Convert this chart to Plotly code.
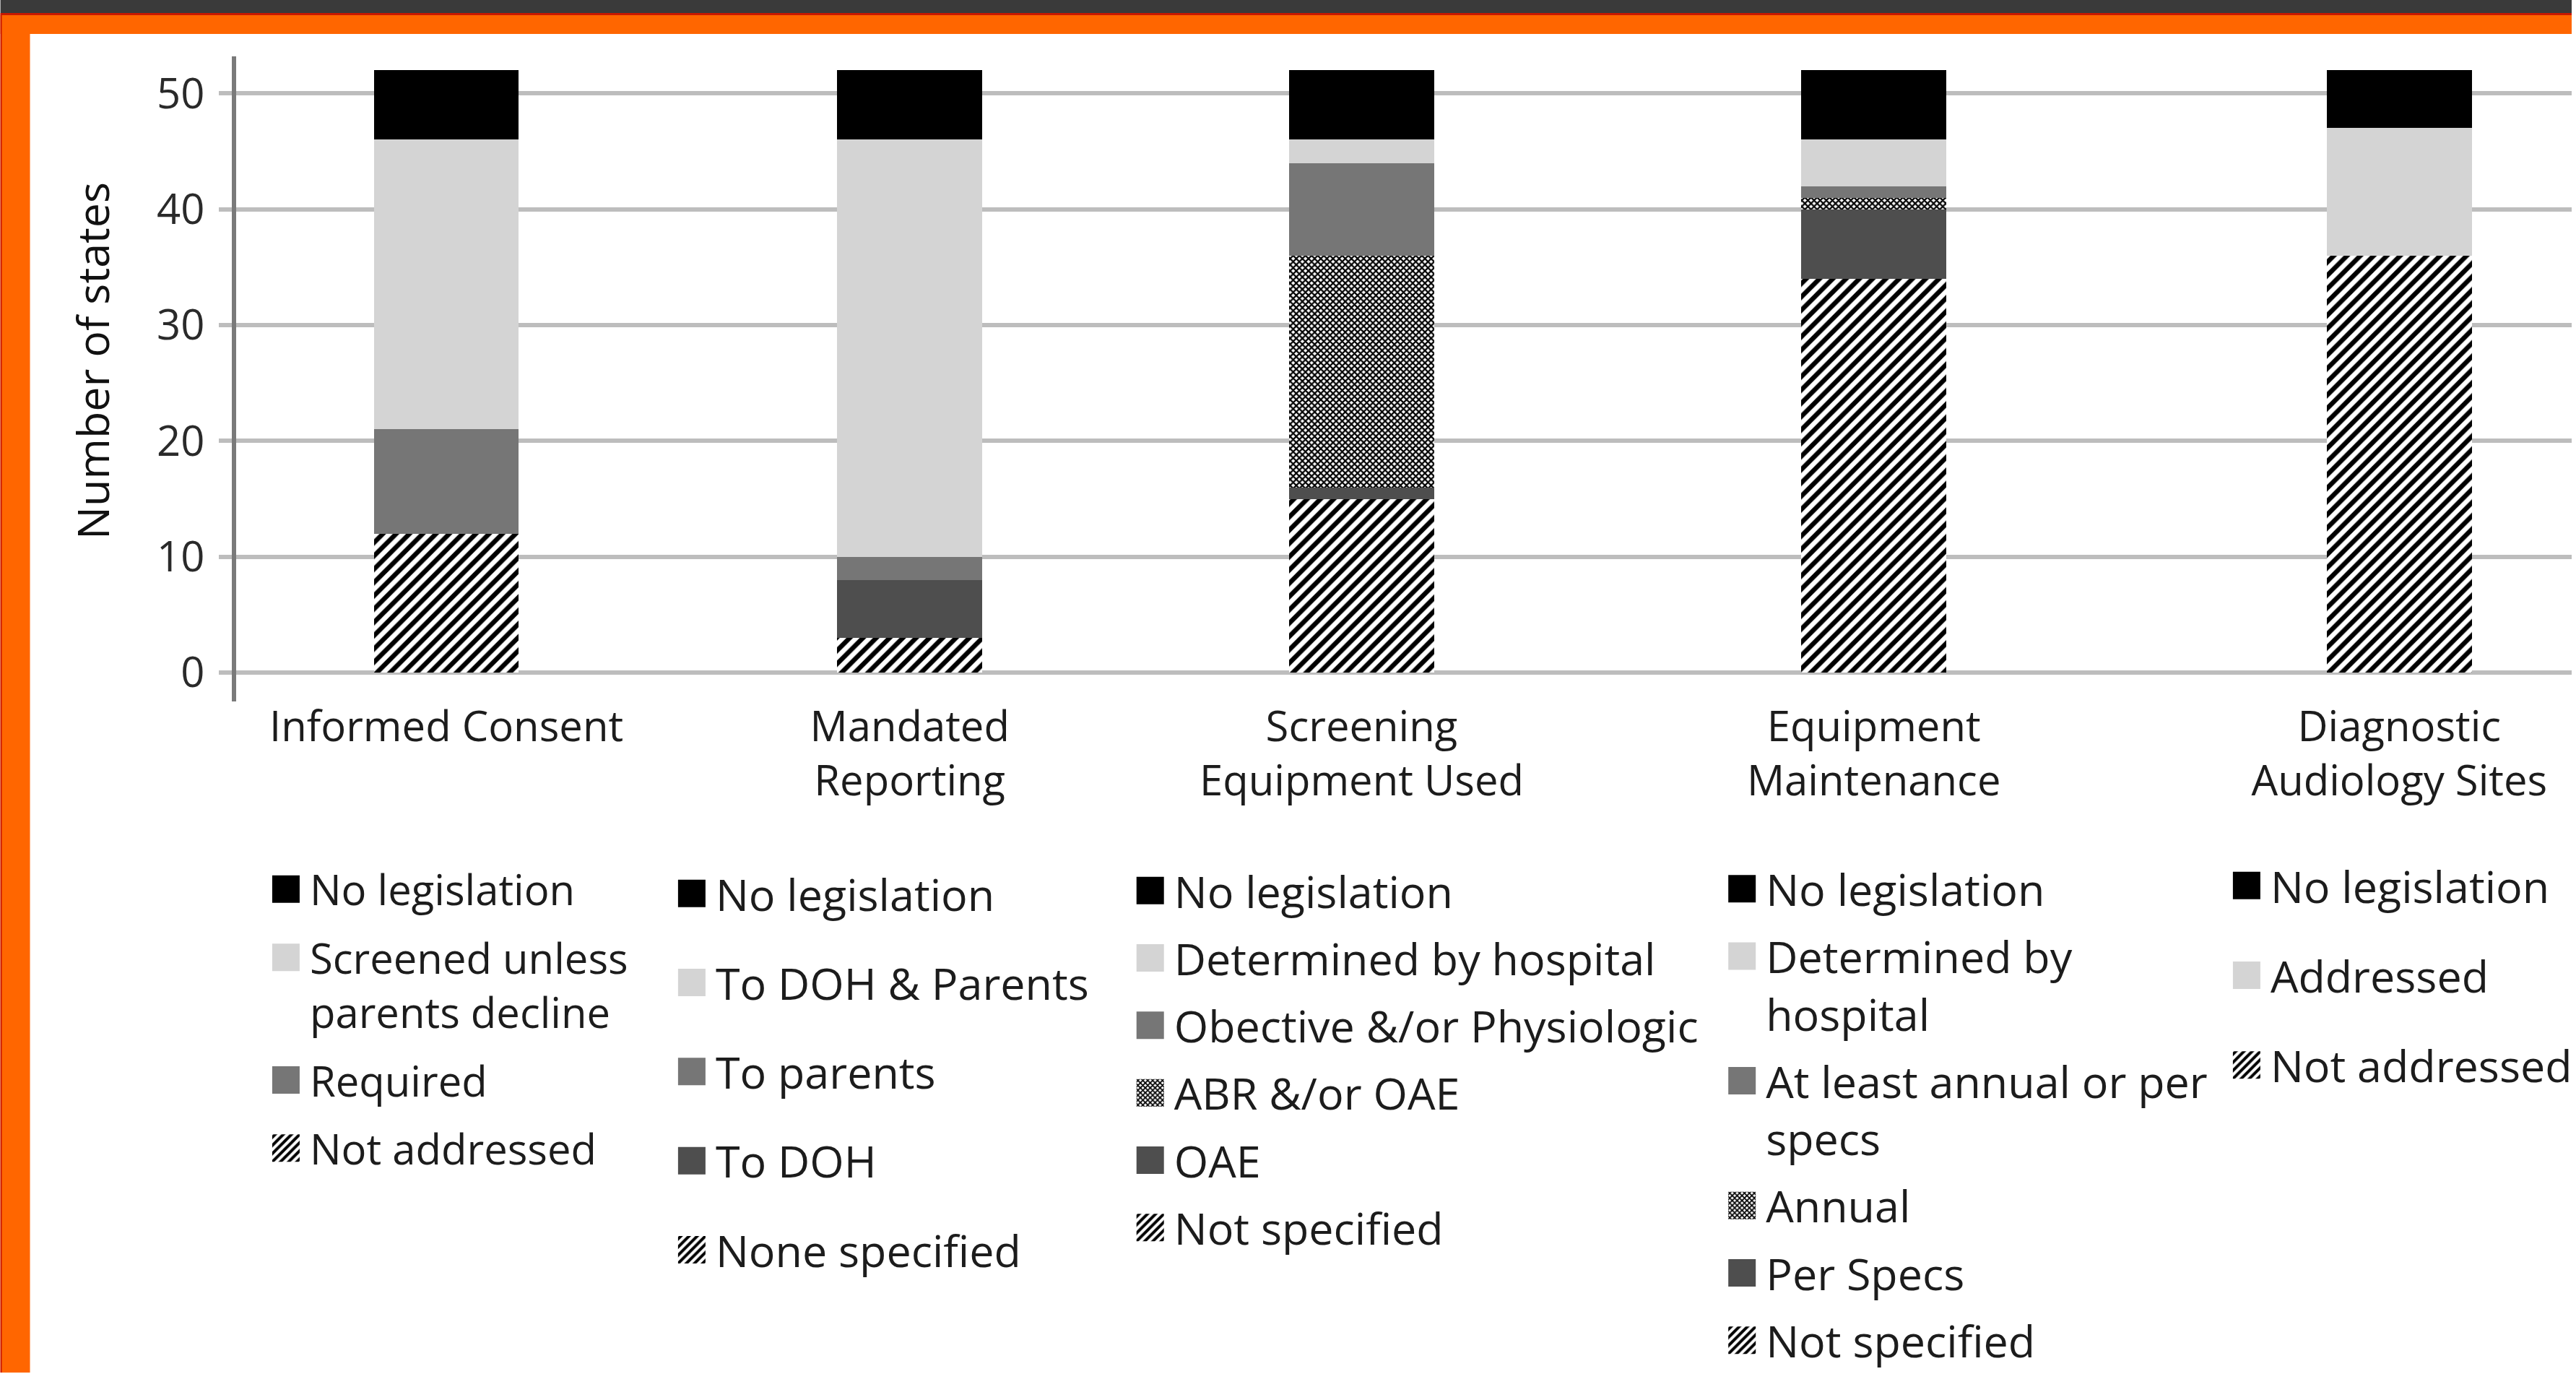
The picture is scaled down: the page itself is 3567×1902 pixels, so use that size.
import plotly.graph_objects as go

# ---------------- data ----------------
categories = ["Informed Consent", "Mandated<br>Reporting", "Screening<br>Equipment Used",
              "Equipment<br>Maintenance", "Diagnostic<br>Audiology Sites"]

# series of each bar, listed from the bottom of the stack to the top
ic_names = ["Not addressed", "Required", "Screened unless<br>parents decline", "No legislation"]
ic_values = [12, 9, 25, 6]

mr_names = ["None specified", "To DOH", "To parents", "To DOH & Parents", "No legislation"]
mr_values = [3, 5, 2, 36, 6]

se_names = ["Not specified", "OAE", "ABR &/or OAE", "Obective &/or Physiologic",
            "Determined by hospital", "No legislation"]
se_values = [15, 1, 20, 8, 2, 6]

em_names = ["Not specified", "Per Specs", "Annual", "At least annual or per<br>specs",
            "Determined by<br>hospital", "No legislation"]
em_values = [34, 6, 1, 1, 4, 6]

da_names = ["Not addressed", "Addressed", "No legislation"]
da_values = [36, 11, 5]

y_ticks = [0, 10, 20, 30, 40, 50]
y_title = "Number of states"

# ---------------- styles / layout ----------------
ic_styles = ["hatch", "medium", "light", "black"]
mr_styles = ["hatch", "dark", "medium", "light", "black"]
se_styles = ["hatch", "dark", "checker", "medium", "light", "black"]
em_styles = ["hatch", "dark", "checker", "medium", "light", "black"]
da_styles = ["hatch", "light", "black"]

FILL = {"black": "#000000", "light": "#d4d4d4", "medium": "#767676", "dark": "#4e4e4e"}

W, H = 3567, 1902
PL, PR, PT, PB = 327, 3567, 78, 972  # plot area in pixels


def xp(px):
    return (px - PL) / (PR - PL)


def yp(py):
    return (PB - py) / (PB - PT)


# horizontal slot of each bar on a 0..10 axis (the bars are unevenly spaced)
slot_x = [0.900, 2.884, 4.819, 7.012, 9.262]
bar_width = 0.62

FONT = "Open Sans"
TXT = "#1c1c1c"


def marker_for(style):
    if style == "hatch":
        return dict(color="white", line=dict(width=0),
                    pattern=dict(shape="/", fgcolor="black", bgcolor="white",
                                 size=13, solidity=0.5, fillmode="replace"))
    if style == "checker":
        return dict(color="white", line=dict(width=0),
                    pattern=dict(shape="x", fgcolor="black", bgcolor="white",
                                 size=6, solidity=0.6, fillmode="replace"))
    return dict(color=FILL[style], line=dict(width=0))


groups = [
    (ic_names, ic_values, ic_styles),
    (mr_names, mr_values, mr_styles),
    (se_names, se_values, se_styles),
    (em_names, em_values, em_styles),
    (da_names, da_values, da_styles),
]
legend_ids = ["legend", "legend2", "legend3", "legend4", "legend5"]

fig = go.Figure()
for gi, (names, values, styles) in enumerate(groups):
    for si, (nm, val, st) in enumerate(zip(names, values, styles)):
        fig.add_trace(go.Bar(
            x=[slot_x[gi]], y=[val], name=nm, width=bar_width,
            marker=marker_for(st),
            legend=legend_ids[gi], legendgroup=f"g{gi}_{si}",
            legendrank=100 - si,  # top of the stack listed first
            hovertemplate=nm.replace("<br>", " ") + ": %{y}<extra></extra>",
        ))

# legend placement (px): symbol-left x, first symbol centre y, font size, gap
legend_pos = [
    (380, 1233, 58, 16),
    (943, 1239, 61, 41),
    (1579, 1235, 61, 11),
    (2400, 1233, 61, 11),
    (3100, 1228, 61, 42),
]
legend_layout = {}
for lid, (sx, cy, fs, gap) in zip(legend_ids, legend_pos):
    half = (1.3 * fs + 3) / 2
    legend_layout[lid] = dict(
        x=xp(sx - 17), y=yp(cy - half - 6), xanchor="left", yanchor="top",
        xref="paper", yref="paper",
        font=dict(family=FONT, size=fs, color=TXT),
        bgcolor="rgba(0,0,0,0)", borderwidth=0,
        traceorder="grouped", tracegroupgap=gap,
        valign="top", itemwidth=56,
        itemclick=False, itemdoubleclick=False,
    )

# frame decoration (dark band + orange border)
shapes = [
    dict(type="rect", xref="paper", yref="paper", x0=xp(0), x1=xp(W), y0=yp(0), y1=yp(18),
         fillcolor="#3a3a3a", line=dict(width=0), layer="below"),
    dict(type="rect", xref="paper", yref="paper", x0=xp(0), x1=xp(W), y0=yp(18), y1=yp(21),
         fillcolor="#c81800", line=dict(width=0), layer="below"),
    dict(type="rect", xref="paper", yref="paper", x0=xp(0), x1=xp(W), y0=yp(21), y1=yp(47),
         fillcolor="#ff6600", line=dict(width=0), layer="below"),
    dict(type="rect", xref="paper", yref="paper", x0=xp(0), x1=xp(41), y0=yp(21), y1=yp(H),
         fillcolor="#ff6600", line=dict(width=0), layer="below"),
    dict(type="rect", xref="paper", yref="paper", x0=xp(0), x1=xp(2), y0=yp(18), y1=yp(H),
         fillcolor="#c81800", line=dict(width=0), layer="below"),
]

annotations = [
    dict(text=y_title, textangle=-90, xref="paper", yref="paper",
         x=xp(127), y=yp(500), xanchor="center", yanchor="middle", showarrow=False,
         font=dict(family=FONT, size=61, color="#111111")),
]

fig.update_layout(
    width=W, height=H, autosize=False,
    margin=dict(l=PL, r=W - PR, t=PT, b=H - PB, pad=0),
    paper_bgcolor="white", plot_bgcolor="white",
    barmode="stack", bargap=0,
    showlegend=True,
    shapes=shapes,
    annotations=annotations,
    font=dict(family=FONT, size=58, color=TXT),
    xaxis=dict(
        range=[0, 10], tickmode="array", tickvals=slot_x, ticktext=categories,
        showgrid=False, zeroline=False, showline=False, ticks="",
        ticklabelstandoff=-4,
        tickfont=dict(family=FONT, size=58, color=TXT),
        fixedrange=True,
    ),
    yaxis=dict(
        range=[-2.49, 53.2], tickmode="array", tickvals=y_ticks,
        showgrid=True, gridcolor="#bdbdbd", gridwidth=6,
        zeroline=False,
        showline=True, linecolor="#7a7a7a", linewidth=6,
        ticks="outside", ticklen=18, tickwidth=6, tickcolor="#bdbdbd",
        ticklabelstandoff=8,
        tickfont=dict(family=FONT, size=58, color="#2a2a2a"),
        fixedrange=True,
    ),
    **legend_layout,
)

post = """
document.body.style.margin = '0';
document.body.style.overflow = 'hidden';
var gd = document.getElementById('{plot_id}');
function bigSymbols(){
  gd.querySelectorAll('g.legendpoints path').forEach(function(p){
    p.setAttribute('d','M19,19H-19V-19H19Z');
  });
}
bigSymbols();
gd.on('plotly_afterplot', bigSymbols);
"""

fig.write_html("out.html", config={"displayModeBar": False}, post_script=post)
